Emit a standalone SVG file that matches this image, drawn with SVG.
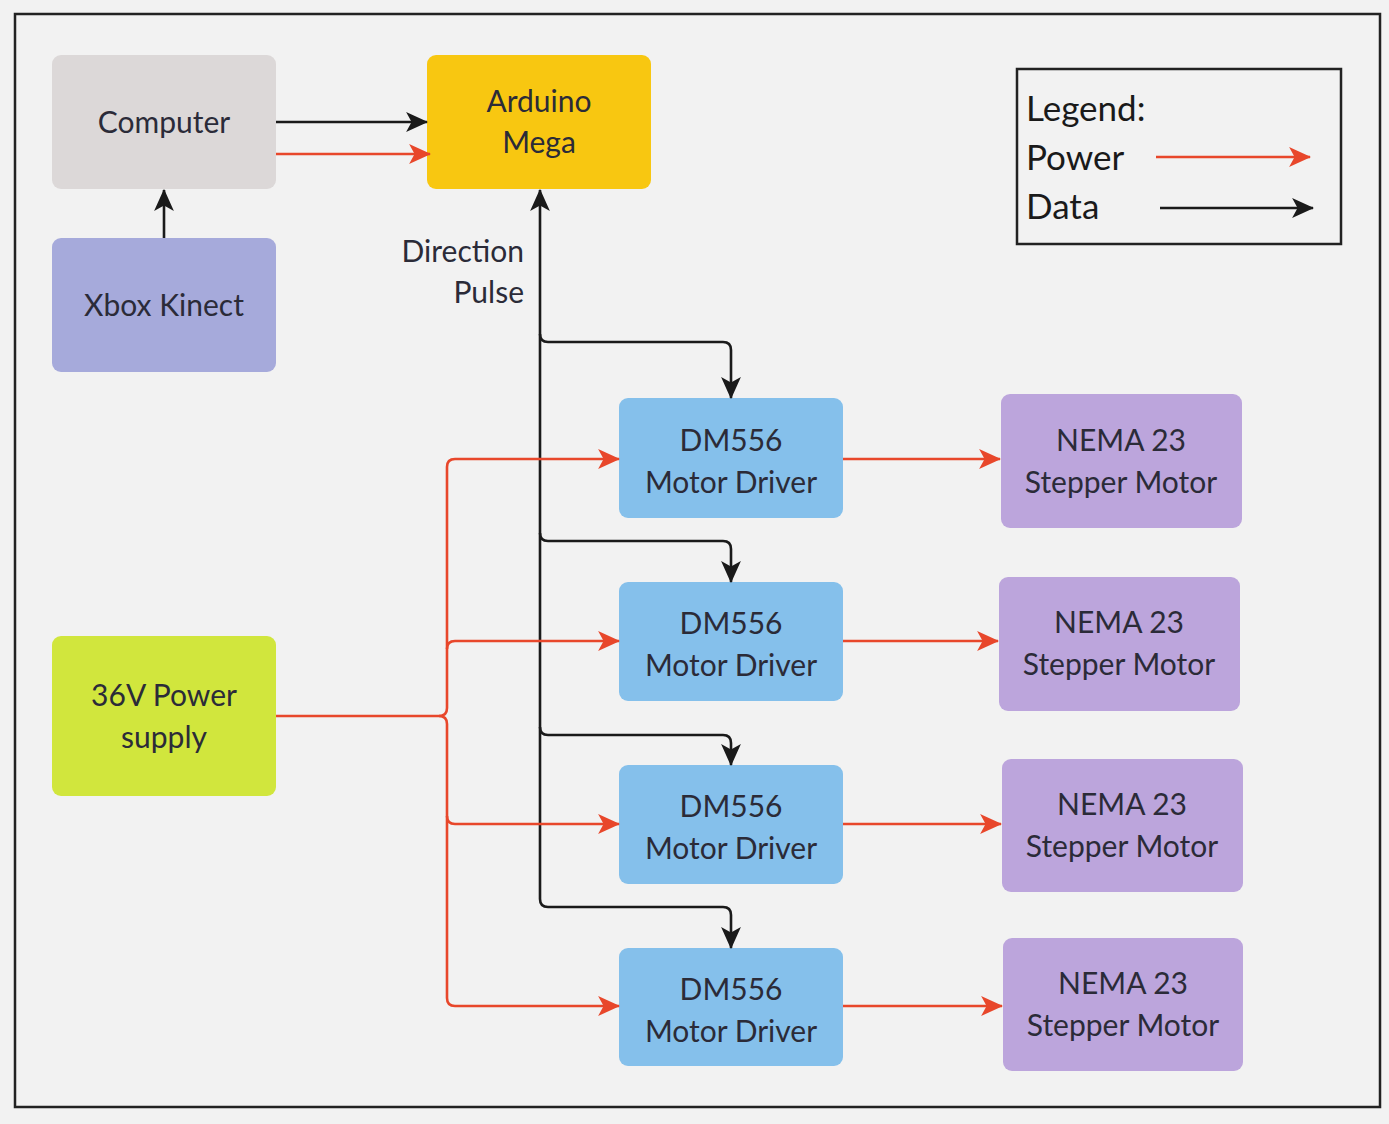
<svg xmlns="http://www.w3.org/2000/svg" width="1389" height="1124" viewBox="0 0 1389 1124">
<defs>
<style>
.t{font-family:Lato,"Open Sans","Liberation Sans",sans-serif;font-size:30px;fill:#2b2b38;text-anchor:middle}
.lg{font-family:Lato,"Open Sans","Liberation Sans",sans-serif;font-size:35px;fill:#1a1a1a}
.d{fill:none;stroke:#1a1a1a;stroke-width:2.6}
.p{fill:none;stroke:#e8472b;stroke-width:2.6}
</style>
<marker id="ab" viewBox="0 0 20 20" refX="19" refY="10" markerWidth="22" markerHeight="22" markerUnits="userSpaceOnUse" orient="auto"><path d="M0,1 L20,10 L0,19 L5,10 z" fill="#1a1a1a"/></marker>
<marker id="ar" viewBox="0 0 20 20" refX="19" refY="10" markerWidth="22" markerHeight="22" markerUnits="userSpaceOnUse" orient="auto"><path d="M0,1 L20,10 L0,19 L5,10 z" fill="#e8472b"/></marker>
</defs>
<rect width="1389" height="1124" fill="#f2f2f2"/>
<rect x="15" y="14" width="1365" height="1093" fill="#f2f2f2" stroke="#222" stroke-width="2.5"/>

<g id="computer"><rect x="52" y="55" width="224" height="134" rx="9" fill="#dcd8d8"/><text class="t" x="164" y="133">Computer</text></g>
<g id="arduino"><rect x="427" y="55" width="224" height="134" rx="9" fill="#f8c711"/><text class="t" x="539" y="112">Arduino</text><text class="t" x="539" y="153">Mega</text></g>
<g id="kinect"><rect x="52" y="238" width="224" height="134" rx="9" fill="#a6aadb"/><text class="t" x="164" y="316">Xbox Kinect</text></g>
<g id="power"><rect x="52" y="636" width="224" height="160" rx="9" fill="#d1e63d"/><text class="t" x="164" y="706">36V Power</text><text class="t" x="164" y="748">supply</text></g>

<g id="driver1"><rect x="619" y="398" width="224" height="120" rx="9" fill="#85c0eb"/><text class="t" x="731" y="451">DM556</text><text class="t" x="731" y="493">Motor Driver</text></g>
<g id="driver2"><rect x="619" y="582" width="224" height="119" rx="9" fill="#85c0eb"/><text class="t" x="731" y="634">DM556</text><text class="t" x="731" y="676">Motor Driver</text></g>
<g id="driver3"><rect x="619" y="765" width="224" height="119" rx="9" fill="#85c0eb"/><text class="t" x="731" y="817">DM556</text><text class="t" x="731" y="859">Motor Driver</text></g>
<g id="driver4"><rect x="619" y="948" width="224" height="118" rx="9" fill="#85c0eb"/><text class="t" x="731" y="1000">DM556</text><text class="t" x="731" y="1042">Motor Driver</text></g>

<g id="motor1"><rect x="1001" y="394" width="241" height="134" rx="9" fill="#bca5dc"/><text class="t" x="1121" y="451">NEMA 23</text><text class="t" x="1121" y="493">Stepper Motor</text></g>
<g id="motor2"><rect x="999" y="577" width="241" height="134" rx="9" fill="#bca5dc"/><text class="t" x="1119" y="633">NEMA 23</text><text class="t" x="1119" y="675">Stepper Motor</text></g>
<g id="motor3"><rect x="1002" y="759" width="241" height="133" rx="9" fill="#bca5dc"/><text class="t" x="1122" y="815">NEMA 23</text><text class="t" x="1122" y="857">Stepper Motor</text></g>
<g id="motor4"><rect x="1003" y="938" width="240" height="133" rx="9" fill="#bca5dc"/><text class="t" x="1123" y="994">NEMA 23</text><text class="t" x="1123" y="1036">Stepper Motor</text></g>

<g id="legend">
<rect x="1017" y="69" width="324" height="175" fill="none" stroke="#222" stroke-width="2.5"/>
<text class="lg" x="1026" y="121">Legend:</text>
<text class="lg" x="1026" y="170">Power</text>
<text class="lg" x="1026" y="219">Data</text>
<path class="p" d="M1156,157 L1310,157" marker-end="url(#ar)"/>
<path class="d" d="M1160,208 L1313,208" marker-end="url(#ab)"/>
</g>

<g id="labels">
<text class="t" x="524" y="262" style="text-anchor:end">Direction</text>
<text class="t" x="524" y="303" style="text-anchor:end">Pulse</text>
</g>

<g id="connectors">
<path class="d" d="M276,122 L427,122" marker-end="url(#ab)"/>
<path class="p" d="M276,154 L430,154" marker-end="url(#ar)"/>
<path class="d" d="M164,238 L164,190" marker-end="url(#ab)"/>
<path class="d" d="M540,899 L540,190" marker-end="url(#ab)"/>
<path class="d" d="M540,334 Q540,342 548,342 L723,342 Q731,342 731,350 L731,398" marker-end="url(#ab)"/>
<path class="d" d="M540,533 Q540,541 548,541 L723,541 Q731,541 731,549 L731,582" marker-end="url(#ab)"/>
<path class="d" d="M540,727 Q540,735 548,735 L723,735 Q731,735 731,743 L731,765" marker-end="url(#ab)"/>
<path class="d" d="M540,899 Q540,907 548,907 L723,907 Q731,907 731,915 L731,948" marker-end="url(#ab)"/>
<path class="p" d="M276,716 L439,716 Q447,716 447,708 L447,467 Q447,459 455,459 L619,459" marker-end="url(#ar)"/>
<path class="p" d="M447,649 Q447,641 455,641 L619,641" marker-end="url(#ar)"/>
<path class="p" d="M439,716 Q447,716 447,724 L447,998 Q447,1006 455,1006 L619,1006" marker-end="url(#ar)"/>
<path class="p" d="M447,816 Q447,824 455,824 L619,824" marker-end="url(#ar)"/>
<path class="p" d="M843,459 L1000,459" marker-end="url(#ar)"/>
<path class="p" d="M843,641 L998,641" marker-end="url(#ar)"/>
<path class="p" d="M843,824 L1001,824" marker-end="url(#ar)"/>
<path class="p" d="M843,1006 L1002,1006" marker-end="url(#ar)"/>
</g>
</svg>
